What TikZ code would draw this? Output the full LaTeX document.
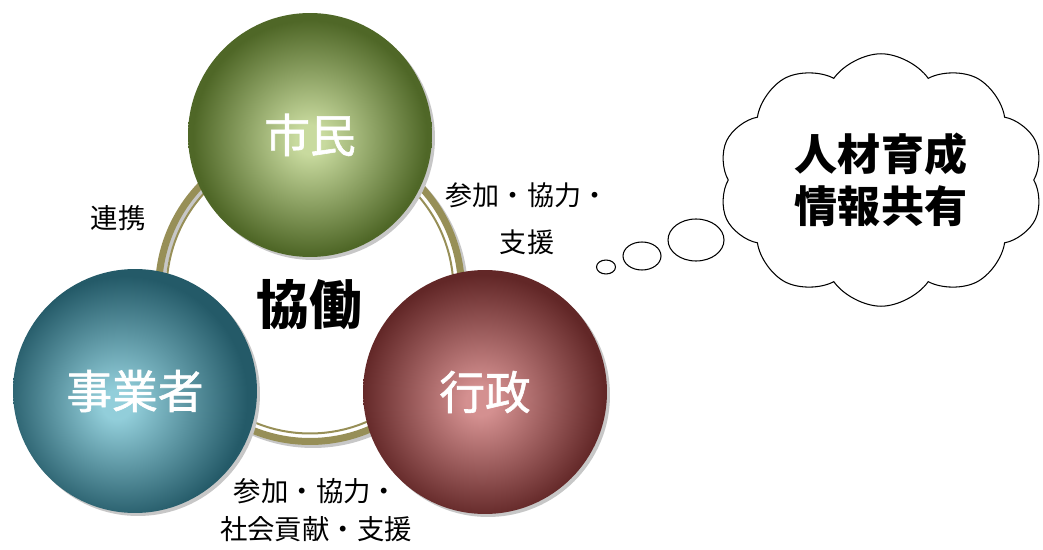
\documentclass[tikz,border=0pt]{standalone}
\usepackage{fontspec}
\usepackage{tikz}
\usetikzlibrary{shapes.symbols,shapes.geometric}
\newfontfamily\jp{Noto Sans CJK JP}
\newfontfamily\jpmid[FakeBold=1.3]{Noto Sans CJK JP}

% ball colours
\definecolor{citizenIn}{HTML}{C8DA9E}
\definecolor{citizenOut}{HTML}{4F6727}
\definecolor{bizIn}{HTML}{92CEDA}
\definecolor{bizOut}{HTML}{245A68}
\definecolor{govIn}{HTML}{D49090}
\definecolor{govOut}{HTML}{622727}
\definecolor{ringcol}{HTML}{978F57}

\pgfdeclareradialshading{citizenball}{\pgfpoint{0bp}{-1bp}}{color(0bp)=(citizenIn); color(3bp)=(citizenIn); color(24bp)=(citizenOut); color(50bp)=(citizenOut)}
\pgfdeclareradialshading{bizball}{\pgfpoint{-4bp}{-3bp}}{color(0bp)=(bizIn); color(3bp)=(bizIn); color(25bp)=(bizOut); color(50bp)=(bizOut)}
\pgfdeclareradialshading{govball}{\pgfpoint{-1bp}{-2bp}}{color(0bp)=(govIn); color(3bp)=(govIn); color(25bp)=(govOut); color(50bp)=(govOut)}

\tikzset{
  ball/.style={circle, minimum size=4.88cm, inner sep=0pt, text=white,
    font=\jpmid\fontsize{26}{26}\selectfont},
  ballshadow/.style={circle, minimum size=4.88cm, inner sep=0pt, fill=black!22},
  note/.style={font=\jp\fontsize{15.6}{21.5}\selectfont, align=center},
  bubble/.style={ellipse, draw, line width=0.6pt, inner sep=0pt}
}

\begin{document}
\begin{tikzpicture}[x=0.02cm, y=-0.02cm]
        \useasboundingbox (0,0) rectangle (1043,550);

        % Ring behind the balls
        \draw[line width=0.14cm, black!22] (313,293) circle[radius=3.03cm];
        \draw[line width=0.14cm, ringcol] (310,290) circle[radius=3.03cm];
        \draw[line width=0.04cm, ringcol] (310,290) circle[radius=2.87cm];

        % Shadows
        \node[ballshadow] (shimins) at (313,138) {};
        \node[ballshadow] (jigyoshas) at (138,394) {};
        \node[ballshadow] (gyoseis) at (488,395) {};

        % Balls
        \node[ball, shading=citizenball] (shimin) at (310,135) {市民};
        \node[ball, shading=bizball] (jigyosha) at (135,391) {事業者};
        \node[ball, shading=govball] (gyosei) at (485,392) {行政};

        % Centre
        \node[font=\jp\bfseries\fontsize{30}{30}\selectfont] (kyodo) at (309,305) {協働};

        % Labels
        \node[note] (renkei) at (118,218) {連携};
        \node[note, font=\jp\fontsize{15.4}{26.5}\selectfont] (sanka1) at (527,219) {参加・協力・\\支援};
        \node[note] (sanka2) at (316,510) {参加・協力・\\社会貢献・支援};

        % Thought cloud
        \node[cloud, draw, line width=0.6pt, cloud puffs=10, cloud puff arc=110, aspect=1.3,
              minimum width=6.5cm, minimum height=5.05cm, align=center,
              font=\jp\bfseries\fontsize{24.5}{29.5}\selectfont] (idea) at (881,180) {人材育成\\情報共有};
        \node[bubble, minimum width=0.38cm, minimum height=0.28cm] (b1) at (606,267) {};
        \node[bubble, minimum width=0.76cm, minimum height=0.56cm] (b2) at (642,256) {};
        \node[bubble, minimum width=1.12cm, minimum height=0.84cm] (b3) at (696,240) {};
    \end{tikzpicture}
\end{document}
